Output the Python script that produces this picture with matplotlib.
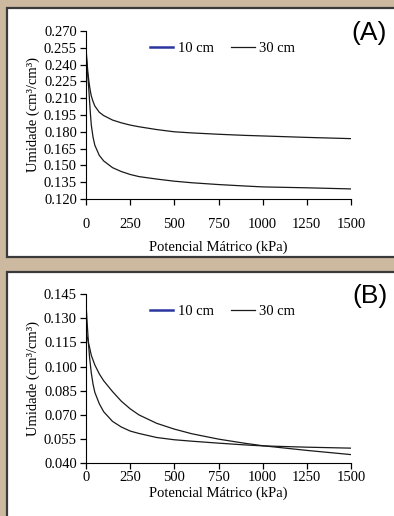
import matplotlib
matplotlib.use('Agg')
from matplotlib import pyplot as plt
from matplotlib.patches import Rectangle

# potencial matrico (kPa)
pot = [0, 5, 10, 15, 20, 25, 30, 40, 50, 75, 100, 150, 200, 250, 300,
       400, 500, 600, 750, 900, 1000, 1250, 1500]

# (A) umidade
a_10cm = [0.251, 0.240, 0.230, 0.220, 0.208, 0.196, 0.186, 0.175, 0.168,
          0.159, 0.154, 0.148, 0.1445, 0.1419, 0.1400, 0.1378, 0.1359,
          0.1345, 0.1329, 0.1316, 0.1308, 0.1300, 0.1290]
a_30cm = [0.255, 0.244, 0.234, 0.227, 0.221, 0.216, 0.212, 0.207, 0.203,
          0.1975, 0.1945, 0.1905, 0.188, 0.186, 0.1845, 0.182, 0.180,
          0.179, 0.1778, 0.1768, 0.1763, 0.175, 0.1739]

# (B) umidade
b_10cm = [0.139, 0.130, 0.121, 0.113, 0.106, 0.101, 0.096, 0.089, 0.084,
          0.077, 0.072, 0.066, 0.0625, 0.060, 0.0585, 0.056, 0.0546,
          0.0537, 0.0525, 0.0514, 0.0508, 0.0500, 0.0494]
b_30cm = [0.122, 0.119, 0.117, 0.114, 0.112, 0.1095, 0.107, 0.104, 0.101,
          0.0955, 0.0912, 0.0845, 0.0785, 0.0738, 0.0700, 0.0648, 0.0612,
          0.0583, 0.0550, 0.0524, 0.0509, 0.0480, 0.0454]

a_ticks = [0.120, 0.135, 0.150, 0.165, 0.180, 0.195, 0.210, 0.225, 0.240, 0.255, 0.270]
b_ticks = [0.040, 0.055, 0.070, 0.085, 0.100, 0.115, 0.130, 0.145]
x_ticks = [0, 250, 500, 750, 1000, 1250, 1500]

W, H = 394, 516
fig = plt.figure(figsize=(W / 100, H / 100), dpi=100, facecolor='#cdb9a0')

# white panels with dark frame (behind the axes)
fig.add_artist(Rectangle((7 / W, 1 - 257 / H), 1.0, (257 - 8) / H,
                         transform=fig.transFigure, facecolor='white',
                         edgecolor='#3a3a3a', linewidth=1.6, zorder=-10))
fig.add_artist(Rectangle((7 / W, -0.05), 1.0, 0.05 + (H - 272) / H,
                         transform=fig.transFigure, facecolor='white',
                         edgecolor='#3a3a3a', linewidth=1.6, zorder=-10))

serif = 'Liberation Serif'
fs = 10.5


def painel(rect, y10, y30, ticks, letra, xpad, labpad):
    ax = fig.add_axes(rect)
    ax.set_facecolor('none')
    ax.plot(pot, y10, color='#1a1a1a', lw=0.9, label='10 cm')
    ax.plot(pot, y30, color='#1a1a1a', lw=0.9, label='30 cm')
    ax.set_xlim(0, 1500)
    ax.set_ylim(ticks[0], ticks[-1])
    ax.set_xticks(x_ticks)
    ax.set_yticks(ticks)
    ax.set_xticklabels([str(t) for t in x_ticks], fontfamily=serif, fontsize=fs)
    ax.set_yticklabels(['%.3f' % t for t in ticks], fontfamily=serif, fontsize=fs)
    ax.spines['top'].set_visible(False)
    ax.spines['right'].set_visible(False)
    ax.tick_params(direction='out', length=4, width=0.9, pad=2.5)
    ax.tick_params(axis='x', pad=xpad)
    ax.set_xlabel('Potencial Mátrico (kPa)', fontfamily=serif, fontsize=fs, labelpad=labpad)
    ax.set_ylabel('Umidade (cm³/cm³)', fontfamily=serif, fontsize=fs, labelpad=3)
    leg = ax.legend(loc='center', bbox_to_anchor=(0.515, 0.895), ncol=2,
                    frameon=False, handlelength=1.6, handletextpad=0.3,
                    columnspacing=1.2, prop={'family': serif, 'size': fs})
    leg.legend_handles[0].set_color('#2b35a0')
    leg.legend_handles[0].set_linewidth(1.8)
    ax.text(1.07, 0.99, letra, transform=ax.transAxes, ha='center', va='center',
            fontfamily='Liberation Sans', fontsize=19)
    return ax


painel([86 / W, 1 - 199 / H, 265 / W, 168 / H], a_10cm, a_30cm, a_ticks, '(A)', 9.5, 7)
painel([86 / W, 1 - 463.3 / H, 265 / W, 169.3 / H], b_10cm, b_30cm, b_ticks, '(B)', 1.5, 1.5)

plt.savefig('out.png', dpi=100, facecolor=fig.get_facecolor())
